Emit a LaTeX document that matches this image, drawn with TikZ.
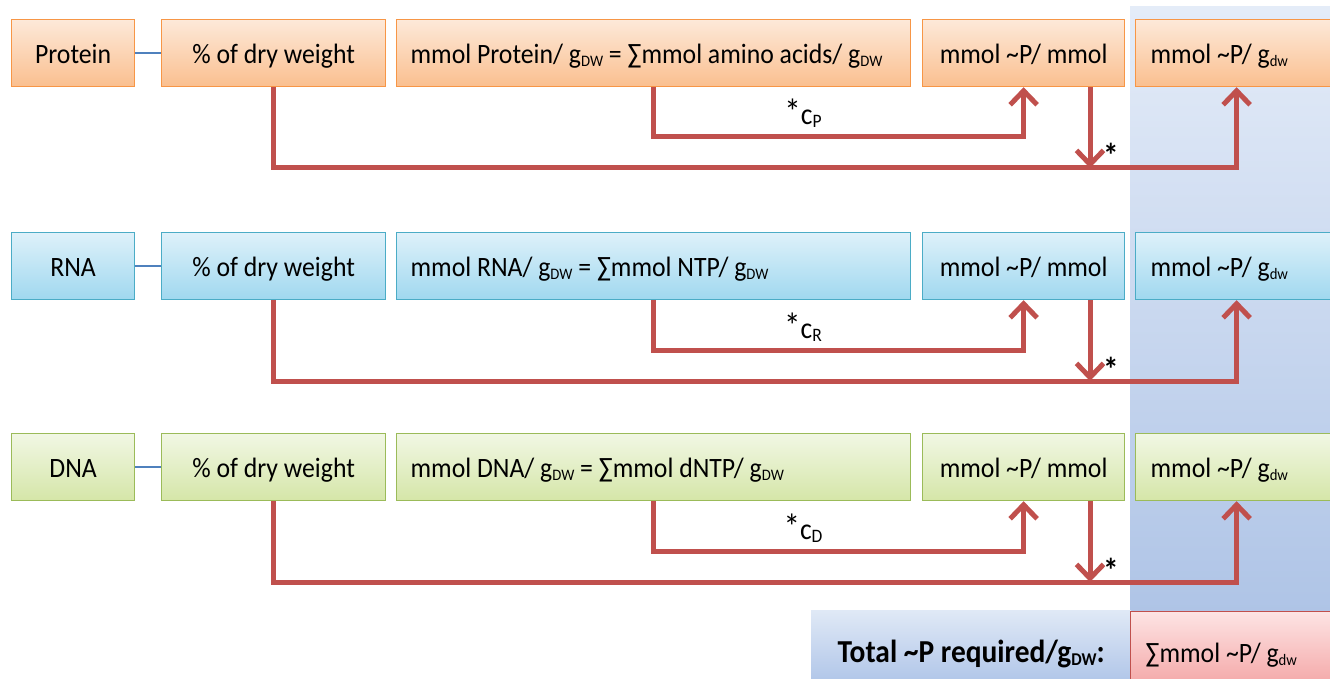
\documentclass[tikz,border=0pt]{standalone}
\usepackage{fontspec}
\setmainfont{Carlito}[FakeStretch=0.92]
\usetikzlibrary{arrows.meta}
\definecolor{orT}{RGB}{253,233,217}
\definecolor{orB}{RGB}{250,191,143}
\definecolor{orD}{RGB}{247,150,70}
\definecolor{blT}{RGB}{222,241,250}
\definecolor{blB}{RGB}{160,216,239}
\definecolor{blD}{RGB}{75,172,198}
\definecolor{grT}{RGB}{241,247,228}
\definecolor{grB}{RGB}{213,230,168}
\definecolor{grD}{RGB}{155,187,89}
\definecolor{pnT}{RGB}{228,236,248}
\definecolor{pnB}{RGB}{168,191,228}
\definecolor{totT}{RGB}{224,233,246}
\definecolor{totB}{RGB}{178,199,233}
\definecolor{rdT}{RGB}{253,228,228}
\definecolor{rdB}{RGB}{244,168,168}
\definecolor{rdD}{RGB}{192,80,77}
\definecolor{arrc}{RGB}{192,80,77}
\definecolor{lnk}{RGB}{79,129,189}
\newcommand{\lsub}[1]{\raisebox{-3pt}{\fontsize{16}{16}\selectfont #1}}
\newcommand{\natsp}{\spaceskip=0pt\xspaceskip=0pt\relax}
\tikzset{
  box/.style={line width=1.2pt, minimum height=67pt, inner sep=0pt,
    text height=22pt, text depth=2pt, anchor=north west, font=\fontsize{28}{30}\selectfont},
  lbox/.style={box, align=left, inner xsep=14pt},
  redarr/.style={draw=arrc, line width=5pt, -{Straight Barb[length=14pt,width=27pt]}},
  link/.style={draw=lnk, line width=1.3pt},
  lab/.style={inner sep=0pt}
}
% #1 prefix, #2 dy, #3 top colour, #4 bottom colour, #5 border, #6 label, #7 formula, #8 index
\newcommand{\biorow}[8]{%
  \begin{scope}[yshift=-#2pt]
    \node[box, draw=#5, top color=#3, bottom color=#4, minimum width=123pt] (#1a) at (11,19) {#6};
    \node[box, draw=#5, top color=#3, bottom color=#4, minimum width=224pt] (#1b) at (161,19) {\% of dry weight};
    \node[lbox, draw=#5, top color=#3, bottom color=#4, text width=486pt] (#1c) at (396,19) {\natsp\mbox{#7}};
    \node[box, draw=#5, top color=#3, bottom color=#4, minimum width=202pt] (#1d) at (922,19) {mmol \textasciitilde P/ mmol};
    \node[lbox, draw=#5, top color=#3, bottom color=#4, text width=172pt, inner xsep=15pt] (#1e) at (1135,19) {\natsp\mbox{mmol \textasciitilde P/ g\lsub{dw}}};
    \coordinate (#1j) at (1090,168);
    \coordinate (#1k) at (803,137);
    \draw[link] (#1a) -- (#1b);
    \draw[redarr] (#1b.south) |- (#1j) -| (#1e.south);
    \draw[redarr] (#1c.south) |- (#1k) -| (#1d.south);
    \draw[redarr] (#1d.south -| #1j) -- (#1j);
    \node[lab, anchor=base] (#1l) at (803,125) {{\fontsize{36}{36}\selectfont *}{\fontsize{30}{30}\selectfont c}\lsub{\fontsize{19}{19}\selectfont #8}};
    \node[lab, anchor=base west] (#1s) at (1103,168) {\fontsize{34}{34}\selectfont\bfseries *};
  \end{scope}}
\begin{document}
\begin{tikzpicture}[x=1pt,y=-1pt]
\useasboundingbox (0,0) rectangle (1330,679);
\fill[top color=pnT, bottom color=pnB] (1130,7) rectangle (1340,690);
\biorow{p}{0}{orT}{orB}{orD}{Protein}{mmol Protein/ g\lsub{DW} = ∑mmol amino acids/ g\lsub{DW}}{P}
\biorow{r}{213}{blT}{blB}{blD}{RNA}{mmol RNA/ g\lsub{DW} = ∑mmol NTP/ g\lsub{DW}}{R}
\biorow{d}{414}{grT}{grB}{grD}{DNA}{mmol DNA/ g\lsub{DW} = ∑mmol dNTP/ g\lsub{DW}}{D}
\node[anchor=north west, minimum width=320pt, minimum height=69pt, inner sep=0pt,
  top color=totT, bottom color=totB, text height=37pt, text depth=2pt,
  font=\fontsize{32}{34}\selectfont\bfseries] (tot) at (811,610) {Total \textasciitilde P required/g\lsub{\fontsize{18}{18}\selectfont DW}:};
\node[anchor=north west, draw=rdD, line width=1.2pt, top color=rdT, bottom color=rdB,
  minimum height=73pt, inner ysep=0pt, inner xsep=15pt, text width=177pt, align=left,
  text height=31pt, text depth=2pt,
  font=\fontsize{28}{30}\selectfont] (sum) at (1130,611) {\natsp\mbox{∑mmol \textasciitilde P/ g\lsub{dw}}};
\end{tikzpicture}
\end{document}
